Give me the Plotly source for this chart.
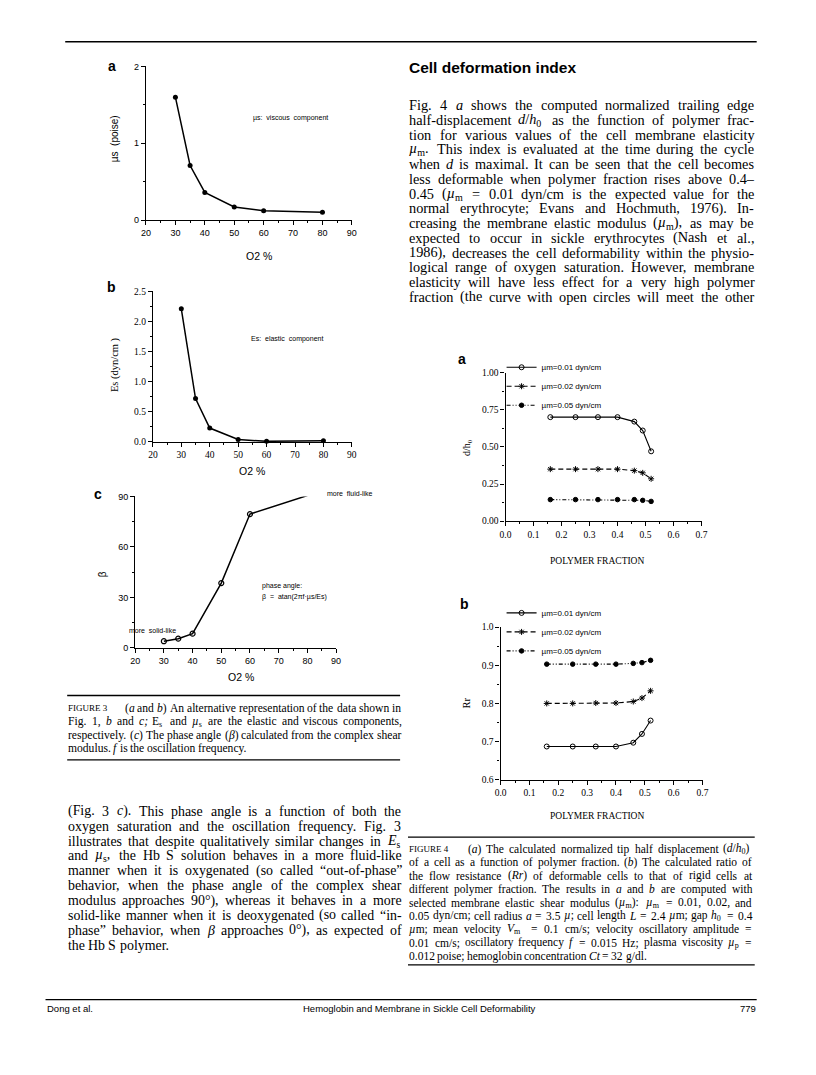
import re
import plotly.graph_objects as go

# ---- data ----
o2 = [30, 35, 40, 50, 60, 80]
mu_s = [1.60, 0.71, 0.36, 0.17, 0.12, 0.10]
e_s = [2.21, 0.72, 0.23, 0.04, 0.01, 0.02]
beta = [4, 5.5, 8.5, 38.5, 79.5, 90.5]

poly_frac = [0.16, 0.25, 0.33, 0.40, 0.46, 0.49, 0.52]
dh_001 = [0.70, 0.70, 0.70, 0.70, 0.67, 0.61, 0.47]
dh_002 = [0.35, 0.35, 0.35, 0.35, 0.34, 0.325, 0.285]
dh_005 = [0.145, 0.145, 0.145, 0.145, 0.145, 0.14, 0.133]
rr_001 = [0.687, 0.687, 0.687, 0.687, 0.697, 0.72, 0.755]
rr_002 = [0.80, 0.80, 0.801, 0.801, 0.805, 0.814, 0.833]
rr_005 = [0.903, 0.903, 0.903, 0.903, 0.905, 0.907, 0.913]
mu_m_labels = ["µm=0.01 dyn/cm", "µm=0.02 dyn/cm", "µm=0.05 dyn/cm"]

# the page body keeps its default 8px margin, so the figure is drawn 8px in
OFF = 8
W, H = 816 - 2 * OFF, 1075 - 2 * OFF
SERIF = "Liberation Serif, Times New Roman, serif"
SANS = "Liberation Sans, Arial, sans-serif"


def px(x):
    return (x - OFF) / W


def py(y):
    return 1 - (y - OFF) / H


fig = go.Figure()


def note(x, y, text, size, family=SERIF, xanchor="left", angle=0):
    fig.add_annotation(
        x=px(x), y=py(y), xref="paper", yref="paper", text=text,
        showarrow=False, xanchor=xanchor, yanchor="middle", textangle=angle,
        borderpad=0, font=dict(size=size, family=family, color="black"),
    )


def rule(x0, x1, y, width=1.2):
    fig.add_shape(type="line", xref="paper", yref="paper",
                  x0=px(x0), x1=px(x1), y0=py(y), y1=py(y),
                  line=dict(color="black", width=width))


# Times-Roman advance widths (per 1000 em) for justifying the columns
_W = {" ": 250, "(": 333, ")": 333, ",": 250, "-": 333, ".": 250, "/": 278,
      ":": 278, ";": 278, "=": 564, "°": 400, "–": 500, "“": 444, "”": 444,
      "µ": 500, "β": 500, "%": 833,
      "A": 722, "B": 667, "C": 667, "D": 722, "E": 611, "F": 556, "G": 722,
      "H": 722, "I": 333, "J": 389, "K": 722, "L": 611, "M": 889, "N": 722,
      "O": 722, "P": 556, "Q": 722, "R": 667, "S": 556, "T": 611, "U": 722,
      "V": 722, "W": 944, "X": 722, "Y": 722, "Z": 611,
      "a": 444, "b": 500, "c": 444, "d": 500, "e": 444, "f": 333, "g": 500,
      "h": 500, "i": 278, "j": 278, "k": 500, "l": 278, "m": 778, "n": 500,
      "o": 500, "p": 500, "q": 500, "r": 333, "s": 389, "t": 278, "u": 500,
      "v": 500, "w": 722, "x": 500, "y": 500, "z": 444}


def text_w(s, fs):
    total = 0.0
    for part in re.split(r"(<sub>.*?</sub>)", s):
        k = 0.78 if part.startswith("<sub>") else 1.0
        clean = re.sub(r"<[^>]+>", "", part)
        total += k * sum(_W.get(c, 500) for c in clean) / 1000 * fs
    if "<sub>" in s:
        total += 2
    return total


def token_w(tok, fs):
    if tok.startswith("<span"):
        inner = re.sub(r"<[^>]+>", "", tok)
        return text_w(inner, 9) * 1.15 + 9
    return text_w(tok, fs)


def paragraph(lines, x0, x1, y0, step, fs, last_ragged=True):
    for i, line in enumerate(lines):
        y = y0 + step * i
        toks = re.findall(r"<span[^>]*>.*?</span>|\S+", line)
        widths = [token_w(t, fs) for t in toks]
        space = _W[" "] / 1000 * fs
        gap = space
        if not (last_ragged and i == len(lines) - 1) and len(toks) > 1:
            gap = (x1 - x0 - sum(widths)) / (len(toks) - 1)
            gap = max(gap, space * 0.6)
        x = x0
        for t, w in zip(toks, widths):
            note(x, y, t, fs)
            x += w + gap


def axis(dom, rng, dtick, minor, font, anchor, fmt=None):
    d = dict(
        domain=dom, range=rng, anchor=anchor, dtick=dtick, tick0=rng[0],
        showline=True, linecolor="black", linewidth=1.2, mirror=False,
        ticks="outside", ticklen=4, tickwidth=1, tickcolor="black",
        showgrid=False, zeroline=False, fixedrange=True,
        tickfont=dict(size=font[1], family=font[0], color="black"),
        minor=dict(ticks="outside", ticklen=2, dtick=minor, tickcolor="black"),
    )
    if fmt:
        d["tickformat"] = fmt
    return d


# ---- Figure 3 panels ----
fig.add_trace(go.Scatter(x=o2, y=mu_s, mode="lines+markers", xaxis="x", yaxis="y",
                         line=dict(color="black", width=1.5), cliponaxis=False,
                         marker=dict(symbol="circle", size=5, color="black"),
                         showlegend=False))
fig.add_trace(go.Scatter(x=o2, y=e_s, mode="lines+markers", xaxis="x2", yaxis="y2",
                         line=dict(color="black", width=1.5), cliponaxis=False,
                         marker=dict(symbol="circle", size=5, color="black"),
                         showlegend=False))
fig.add_trace(go.Scatter(x=o2, y=beta, mode="lines+markers", xaxis="x3", yaxis="y3",
                         line=dict(color="black", width=1.5), cliponaxis=False,
                         marker=dict(symbol="circle-open", size=5, color="black",
                                     line=dict(width=1.2)),
                         showlegend=False))

# ---- Figure 4 panels ----
styles = [
    dict(dash="solid", symbol="circle-open", size=5),
    dict(dash="5px,3px", symbol="asterisk-open", size=5),
    dict(dash="4px,2px,1px,2px,1px,2px", symbol="circle", size=4.5),
]
for i, ys in enumerate([dh_001, dh_002, dh_005]):
    st = styles[i]
    fig.add_trace(go.Scatter(x=poly_frac, y=ys, mode="lines+markers", xaxis="x4", yaxis="y4",
                             name=mu_m_labels[i], legend="legend", cliponaxis=False,
                             line=dict(color="black", width=1.1, dash=st["dash"]),
                             marker=dict(symbol=st["symbol"], size=st["size"], color="black",
                                         line=dict(width=1, color="black"))))
for i, ys in enumerate([rr_001, rr_002, rr_005]):
    st = styles[i]
    fig.add_trace(go.Scatter(x=poly_frac, y=ys, mode="lines+markers", xaxis="x5", yaxis="y5",
                             name=mu_m_labels[i], legend="legend2", cliponaxis=False,
                             line=dict(color="black", width=1.1, dash=st["dash"]),
                             marker=dict(symbol=st["symbol"], size=st["size"], color="black",
                                         line=dict(width=1, color="black"))))

legend_style = dict(xanchor="left", yanchor="top", bgcolor="rgba(0,0,0,0)",
                    font=dict(size=8, family=SANS, color="black"),
                    itemwidth=30, tracegroupgap=0, xref="paper", yref="paper")

fig.update_layout(
    width=W, height=H, autosize=False,
    margin=dict(l=0, r=0, t=0, b=0),
    paper_bgcolor="white", plot_bgcolor="white",
    xaxis=axis([px(142), px(351)], [20, 90], 10, 5, (SANS, 9), "y"),
    yaxis=axis([py(217), py(62)], [0, 2], 1, 0.5, (SANS, 9), "x"),
    xaxis2=axis([px(149), px(351)], [20, 90], 10, 5, (SERIF, 9.5), "y2"),
    yaxis2=axis([py(441), py(289)], [0, 2.5], 0.5, 0.25, (SERIF, 9.5), "x2", ".1f"),
    xaxis3=axis([px(131), px(335)], [20, 90], 10, 5, (SANS, 9), "y3"),
    yaxis3=axis([py(649), py(496)], [0, 90], 30, 15, (SANS, 9), "x3"),
    xaxis4=axis([px(507), px(706)], [0, 0.7], 0.1, 0.05, (SERIF, 9.5), "y4", ".1f"),
    yaxis4=axis([py(521), py(371)], [0, 1], 0.25, 0.125, (SERIF, 9.5), "x4", ".2f"),
    xaxis5=axis([px(502), px(707)], [0, 0.7], 0.1, 0.05, (SERIF, 9.5), "y5", ".1f"),
    yaxis5=axis([py(782), py(628)], [0.6, 1.0], 0.1, 0.05, (SERIF, 9.5), "x5", ".1f"),
    legend=dict(x=px(503), y=py(351), **legend_style),
    legend2=dict(x=px(503), y=py(599), **legend_style),
)

# ---- Figure 3 labels ----
note(107, 62, "<b>a</b>", 14, SANS, "center")
note(107, 285, "<b>b</b>", 14, SANS, "center")
note(93, 494, "<b>c</b>", 14, SANS, "center")
note(110, 135, "µs  (poise)", 10, SANS, "center", -90)
note(110, 363, "Es (dyn/cm )", 10.5, SERIF, "center", -90)
note(98, 575, "β", 10, SANS, "center", -90)
note(250, 114, "µs:  viscous  component", 7, SANS)
note(248, 337, "Es:  elastic  component", 7, SANS)
note(325, 493, "more  fluid-like", 7, SANS)
note(124, 631, "more  solid-like", 7, SANS)
note(259, 586, "phase angle:", 7, SANS)
note(259, 598, "β  =  atan(2πf·µs/Es)", 7, SANS)
note(257, 253, "O2 %", 10.5, SANS, "center")
note(250, 470, "O2 %", 10.5, SANS, "center")
note(238, 678, "O2 %", 10.5, SANS, "center")

# ---- Figure 4 labels ----
note(463, 357, "<b>a</b>", 14, SANS, "center")
note(465, 605, "<b>b</b>", 14, SANS, "center")
note(469, 447, "d/h<sub>0</sub>", 10, SERIF, "center", -90)
note(467, 705, "Rr", 10.5, SERIF, "center", -90)
note(600, 561, "POLYMER FRACTION", 9.5, SERIF, "center")
note(600, 819, "POLYMER FRACTION", 9.5, SERIF, "center")

# ---- page text ----
rule(60, 762, 37, 1.5)
note(408, 63, "<b>Cell deformation index</b>", 15.5, SANS)

right_body = [
    "Fig. 4 <i>a</i> shows the computed normalized trailing edge",
    "half-displacement <i>d</i>/<i>h</i><sub>0</sub> as the function of polymer frac-",
    "tion for various values of the cell membrane elasticity",
    "<i>µ</i><sub>m</sub>. This index is evaluated at the time during the cycle",
    "when <i>d</i> is maximal. It can be seen that the cell becomes",
    "less deformable when polymer fraction rises above 0.4–",
    "0.45 (<i>µ</i><sub>m</sub> = 0.01 dyn/cm is the expected value for the",
    "normal erythrocyte; Evans and Hochmuth, 1976). In-",
    "creasing the membrane elastic modulus (<i>µ</i><sub>m</sub>), as may be",
    "expected to occur in sickle erythrocytes (Nash et al.,",
    "1986), decreases the cell deformability within the physio-",
    "logical range of oxygen saturation. However, membrane",
    "elasticity will have less effect for a very high polymer",
    "fraction (the curve with open circles will meet the other",
]
paragraph(right_body, 408, 758, 101, 14.9, 14.3, last_ragged=False)

left_body = [
    "(Fig. 3 <i>c</i>). This phase angle is a function of both the",
    "oxygen saturation and the oscillation frequency. Fig. 3",
    "illustrates that despite qualitatively similar changes in <i>E</i><sub>s</sub>",
    "and <i>µ</i><sub>s</sub>, the Hb S solution behaves in a more fluid-like",
    "manner when it is oxygenated (so called “out-of-phase”",
    "behavior, when the phase angle of the complex shear",
    "modulus approaches 90°), whereas it behaves in a more",
    "solid-like manner when it is deoxygenated (so called “in-",
    "phase” behavior, when <i>β</i> approaches 0°), as expected of",
    "the Hb S polymer.",
]
paragraph(left_body, 62, 400, 814, 15, 13.9)

cap3 = [
    "<span style='font-size:9px'>FIGURE 3</span> (<i>a</i> and <i>b</i>) An alternative representation of the data shown in",
    "Fig. 1, <i>b</i> and <i>c; E</i><sub>s</sub> and <i>µ</i><sub>s</sub> are the elastic and viscous components,",
    "respectively. (<i>c</i>) The phase angle (<i>β</i>) calculated from the complex shear",
    "modulus. <i>f</i> is the oscillation frequency.",
]
rule(62, 400, 697, 1.3)
paragraph(cap3, 62, 400, 710, 13.5, 11.6)
rule(62, 400, 762, 1.3)

cap4 = [
    "<span style='font-size:9px'>FIGURE 4</span> (<i>a</i>) The calculated normalized tip half displacement (<i>d</i>/<i>h</i><sub>0</sub>)",
    "of a cell as a function of polymer fraction. (<i>b</i>) The calculated ratio of",
    "the flow resistance (<i>Rr</i>) of deformable cells to that of rigid cells at",
    "different polymer fraction. The results in <i>a</i> and <i>b</i> are computed with",
    "selected membrane elastic shear modulus (<i>µ</i><sub>m</sub>): <i>µ</i><sub>m</sub> = 0.01, 0.02, and",
    "0.05 dyn/cm; cell radius <i>a</i> = 3.5 <i>µ</i>; cell length <i>L</i> = 2.4 <i>µ</i>m; gap <i>h</i><sub>0</sub> = 0.4",
    "<i>µ</i>m; mean velocity <i>V</i><sub>m</sub> = 0.1 cm/s; velocity oscillatory amplitude =",
    "0.01 cm/s; oscillatory frequency <i>f</i> = 0.015 Hz; plasma viscosity <i>µ</i><sub>p</sub> =",
    "0.012 poise; hemoglobin concentration <i>Ct</i> = 32 g/dl.",
]
rule(408, 760, 840, 1.3)
paragraph(cap4, 408, 756, 852, 13.5, 11.5)
rule(408, 760, 969, 1.3)

# ---- footer ----
rule(40, 762, 1004, 1.3)
note(40, 1013, "Dong et al.", 9.5, SANS)
note(420, 1013, "Hemoglobin and Membrane in Sickle Cell Deformability", 9.5, SANS, "center")
note(762, 1013, "779", 9.5, SANS, "right")

fig.write_html("out.html")
